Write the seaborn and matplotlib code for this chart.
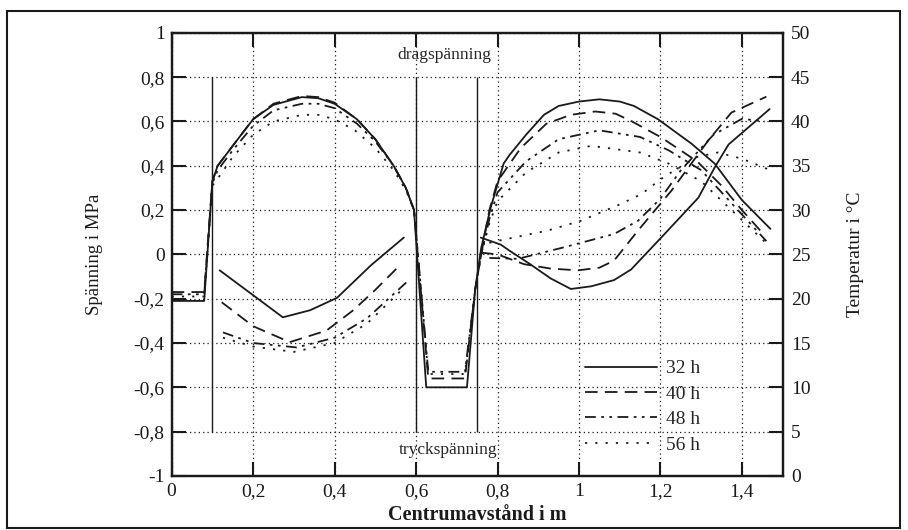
import matplotlib
matplotlib.use("Agg")
from matplotlib import pyplot as plt
from matplotlib.lines import Line2D
from matplotlib.patches import Rectangle
from matplotlib.ticker import FuncFormatter
import seaborn as sns

hours = ['32 h', '40 h', '48 h', '56 h']

# stress (MPa) along the section
x_s32 = [0, 0.08, 0.1, 0.113, 0.15, 0.2, 0.25, 0.32, 0.36, 0.4, 0.455, 0.5, 0.545, 0.575, 0.595,
         0.625, 0.725, 0.745, 0.76, 0.783, 0.815, 0.83, 0.87, 0.914, 0.95, 1.0, 1.05, 1.1, 1.135,
         1.194, 1.276, 1.333, 1.40, 1.47]
s32 = [-0.21, -0.21, 0.33, 0.40, 0.49, 0.61, 0.675, 0.71, 0.705, 0.68, 0.61, 0.52, 0.40, 0.30, 0.20,
       -0.60, -0.60, -0.16, 0.03, 0.21, 0.41, 0.45, 0.54, 0.63, 0.67, 0.69, 0.70, 0.69, 0.67,
       0.61, 0.50, 0.41, 0.245, 0.115]

x_s40 = [0, 0.08, 0.1, 0.113, 0.15, 0.2, 0.25, 0.32, 0.36, 0.4, 0.455, 0.5, 0.545, 0.575, 0.595,
         0.63, 0.72, 0.745, 0.76, 0.78, 0.80, 0.857, 0.92, 0.98, 1.04, 1.09, 1.13, 1.2, 1.29,
         1.35, 1.40, 1.456]
s40 = [-0.17, -0.17, 0.33, 0.40, 0.49, 0.61, 0.68, 0.715, 0.71, 0.685, 0.61, 0.52, 0.40, 0.30, 0.20,
       -0.56, -0.56, -0.16, 0.0, 0.20, 0.33, 0.48, 0.59, 0.63, 0.645, 0.635, 0.60, 0.53, 0.42,
       0.31, 0.20, 0.085]

x_s48 = [0, 0.08, 0.1, 0.113, 0.15, 0.2, 0.25, 0.32, 0.36, 0.4, 0.455, 0.5, 0.545, 0.575, 0.595,
         0.63, 0.72, 0.745, 0.76, 0.78, 0.80, 0.87, 0.95, 1.05, 1.15, 1.22, 1.3, 1.38, 1.46]
s48 = [-0.18, -0.18, 0.32, 0.38, 0.47, 0.58, 0.65, 0.68, 0.68, 0.66, 0.59, 0.51, 0.40, 0.30, 0.20,
       -0.53, -0.53, -0.16, 0.0, 0.16, 0.28, 0.42, 0.52, 0.56, 0.53, 0.47, 0.38, 0.22, 0.06]

x_s56 = [0, 0.08, 0.1, 0.12, 0.15, 0.2, 0.25, 0.32, 0.36, 0.4, 0.45, 0.5, 0.545, 0.575, 0.595,
         0.63, 0.72, 0.745, 0.76, 0.78, 0.80, 0.87, 0.95, 1.03, 1.15, 1.22, 1.3, 1.38, 1.46]
s56 = [-0.19, -0.19, 0.31, 0.36, 0.44, 0.54, 0.60, 0.63, 0.63, 0.61, 0.56, 0.48, 0.38, 0.29, 0.20,
       -0.54, -0.54, -0.16, 0.0, 0.14, 0.24, 0.37, 0.46, 0.49, 0.46, 0.41, 0.33, 0.19, 0.05]

# temperature (deg C), two parts of the section
x_t32a = [0.118, 0.2, 0.273, 0.34, 0.406, 0.49, 0.57]
t32a = [23.2, 20.4, 17.9, 18.7, 20.1, 23.8, 26.9]
x_t32b = [0.759, 0.808, 0.83, 0.88, 0.93, 0.98, 1.03, 1.086, 1.128, 1.21, 1.293, 1.333, 1.367, 1.468]
t32b = [26.9, 26.1, 25.4, 23.9, 22.3, 21.1, 21.4, 22.1, 23.3, 27.3, 31.4, 34.8, 37.4, 41.4]

x_t40a = [0.123, 0.2, 0.29, 0.38, 0.446, 0.5, 0.561]
t40a = [19.6, 16.9, 15.1, 16.4, 18.7, 21.0, 23.8]
x_t40b = [0.759, 0.80, 0.865, 0.93, 0.997, 1.05, 1.086, 1.145, 1.227, 1.318, 1.374, 1.46]
t40b = [25.2, 25.0, 23.9, 23.4, 23.2, 23.5, 24.3, 27.7, 32.2, 37.9, 41.0, 42.8]

x_t48a = [0.126, 0.2, 0.307, 0.4, 0.48, 0.58]
t48a = [16.2, 15.0, 14.5, 15.6, 17.8, 22.0]
x_t48b = [0.78, 0.85, 0.963, 1.086, 1.145, 1.2, 1.25, 1.33, 1.40, 1.456]
t48b = [24.6, 24.5, 25.8, 27.3, 28.8, 31.3, 34.5, 38.5, 40.3, 40.0]

x_t56a = [0.126, 0.2, 0.3, 0.4, 0.48, 0.565]
t56a = [15.6, 14.6, 14.0, 15.0, 17.2, 21.0]
x_t56b = [0.78, 0.808, 0.924, 1.005, 1.103, 1.153, 1.21, 1.29, 1.34, 1.40, 1.47]
t56b = [26.3, 26.6, 27.7, 28.8, 30.7, 31.8, 33.8, 36.0, 36.5, 35.8, 34.5]

section_edges = [0.1, 0.6, 0.75]

styles = ['-', (0, (7, 4)), (0, (6, 3, 1.5, 3, 1.5, 3)), (0, (1.2, 4.5))]


def comma(v, pos):
    v = round(v, 2)
    if v == 0:
        return '0'
    return f"{v:g}".replace('.', ',')


def draw(ax, x, y, ls):
    sns.lineplot(x=x, y=y, ax=ax, color='k', linewidth=1.3, linestyle=ls,
                 sort=False, estimator=None)


sns.set_theme(style='ticks')
plt.rcParams['font.family'] = ['Liberation Serif', 'DejaVu Serif']

fig = plt.figure(figsize=(9.08, 5.30), dpi=100)
ax = fig.add_axes([0.189, 0.102, 0.673, 0.836])
ax2 = ax.twinx()

stress = [(x_s32, s32), (x_s40, s40), (x_s48, s48), (x_s56, s56)]
temps = [(x_t32a, t32a, x_t32b, t32b), (x_t40a, t40a, x_t40b, t40b),
         (x_t48a, t48a, x_t48b, t48b), (x_t56a, t56a, x_t56b, t56b)]

for (xs, ys), (xa, ta, xb, tb), ls in zip(stress, temps, styles):
    draw(ax, xs, ys, ls)
    draw(ax2, xa, ta, ls)
    draw(ax2, xb, tb, ls)

ax.vlines(section_edges, -0.8, 0.8, color='k', linewidth=1)

ax.set_xlim(0, 1.5)
ax.set_ylim(-1, 1)
ax2.set_ylim(0, 50)
ax.set_xticks([0, 0.2, 0.4, 0.6, 0.8, 1.0, 1.2, 1.4])
ax.set_yticks([-1, -0.8, -0.6, -0.4, -0.2, 0, 0.2, 0.4, 0.6, 0.8, 1])
ax2.set_yticks([0, 5, 10, 15, 20, 25, 30, 35, 40, 45, 50])
ax.xaxis.set_major_formatter(FuncFormatter(comma))
ax.yaxis.set_major_formatter(FuncFormatter(comma))

ax.grid(True, color='k', linestyle=(0, (1, 2.5)), linewidth=0.9)
ax.tick_params(direction='in', length=10, width=1.5, top=True, labelsize=14, pad=5, colors='k')
ax2.tick_params(direction='in', length=10, width=1.5, labelsize=14, pad=6, colors='k')
for a in (ax, ax2):
    for sp in a.spines.values():
        sp.set_linewidth(1.6)
        sp.set_color('k')

ax.set_ylabel('Spänning i MPa', fontsize=13.5, color='k')
ax.yaxis.set_label_coords(-0.112, 0.5)
ax2.set_ylabel('Temperatur i °C', fontsize=14, color='k')
ax2.yaxis.set_label_coords(1.105, 0.5)
ax.set_xlabel('Centrumavstånd i m', fontsize=14.5, fontweight='bold', color='k')
ax.xaxis.set_label_coords(0.5, -0.066)

ax.text(0.67, 0.9, 'dragspänning', ha='center', va='center', fontsize=12.5)
ax.text(0.678, -0.885, 'tryckspänning', ha='center', va='center', fontsize=12.5)

handles = [Line2D([], [], color='k', linewidth=1.3, linestyle=ls) for ls in styles]
ax2.legend(handles, hours, loc='upper left', bbox_to_anchor=(0.676, 0.262), frameon=False,
           handlelength=3.7, fontsize=14, labelspacing=0.4, handletextpad=0.5,
           borderaxespad=0, borderpad=0)

fig.patches.append(Rectangle((0.008, 0.004), 0.983, 0.975, transform=fig.transFigure,
                             fill=False, linewidth=1.5, edgecolor='k'))

fig.savefig('out.png', dpi=100)
